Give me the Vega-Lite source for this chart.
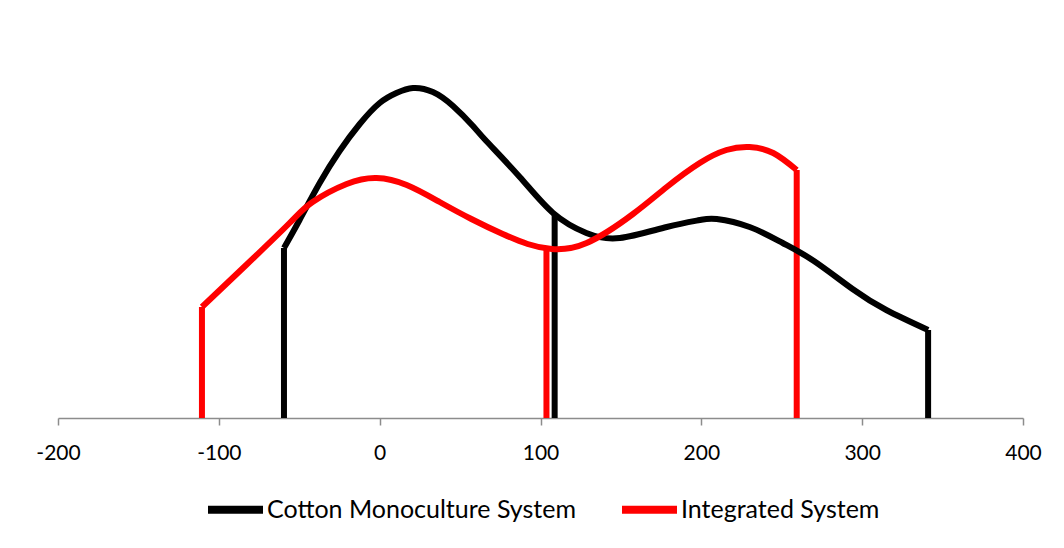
{
  "$schema": "https://vega.github.io/schema/vega-lite/v6.json",
  "width": 965,
  "height": 400,
  "autosize": {"type": "none"},
  "padding": {"left": 58, "top": 18, "right": 41, "bottom": 130},
  "background": "white",
  "config": {
    "view": {"stroke": null}
  },
  "encoding": {
    "x": {"field": "x", "type": "quantitative",
      "scale": {"domain": [-200, 400], "nice": false, "zero": false},
      "axis": {"title": null, "values": [-200, -100, 0, 100, 200, 300, 400], "grid": false,
        "labelExpr": "datum.value < 0 ? '-' + abs(datum.value) : '' + datum.value",
        "domainColor": "#8c8c8c", "domainWidth": 1.5, "tickColor": "#8c8c8c", "tickWidth": 1.5, "tickSize": 7,
        "labelFont": "Lato", "labelFontSize": 21, "labelColor": "#000", "labelPadding": 17, "labelFlush": false}},
    "y": {"field": "y", "type": "quantitative", "scale": {"domain": [0, 400]}, "axis": null},
    "color": {"field": "s", "type": "nominal",
      "scale": {"domain": ["Cotton Monoculture System", "Integrated System"], "range": ["#000000", "#ff0000"]},
      "legend": {"title": null, "orient": "none", "direction": "horizontal", "legendX": 146, "legendY": 460,
        "symbolType": "stroke", "symbolSize": 3025, "symbolStrokeWidth": 8, "labelLimit": 0,
        "labelFontSize": 25, "labelFont": "Lato", "labelColor": "#000", "labelOffset": 0, "columnPadding": 30}}
  },
  "layer": [
    {
      "data": {"values": [
        {"s": "Cotton Monoculture System", "x": -59.5, "y": 0, "y2": 170},
        {"s": "Cotton Monoculture System", "x": 108.8, "y": 0, "y2": 204},
        {"s": "Cotton Monoculture System", "x": 341, "y": 0, "y2": 88},
        {"s": "Integrated System", "x": -110.5, "y": 0, "y2": 111},
        {"s": "Integrated System", "x": 103.7, "y": 0, "y2": 169},
        {"s": "Integrated System", "x": 259.3, "y": 0, "y2": 248}
      ]},
      "mark": {"type": "rule", "strokeWidth": 6, "strokeCap": "butt"},
      "encoding": {
        "y2": {"field": "y2"}
      }
    },
    {
      "data": {"values": [
        {"s": "Cotton Monoculture System", "x": -59.5, "y": 170},
        {"s": "Cotton Monoculture System", "x": -49.8, "y": 198},
        {"s": "Cotton Monoculture System", "x": -37.3, "y": 235},
        {"s": "Cotton Monoculture System", "x": -24.9, "y": 267},
        {"s": "Cotton Monoculture System", "x": -12.4, "y": 294},
        {"s": "Cotton Monoculture System", "x": 0, "y": 315},
        {"s": "Cotton Monoculture System", "x": 10.4, "y": 325},
        {"s": "Cotton Monoculture System", "x": 20.7, "y": 330},
        {"s": "Cotton Monoculture System", "x": 33.1, "y": 326},
        {"s": "Cotton Monoculture System", "x": 45.6, "y": 312},
        {"s": "Cotton Monoculture System", "x": 58, "y": 292},
        {"s": "Cotton Monoculture System", "x": 66.3, "y": 277},
        {"s": "Cotton Monoculture System", "x": 87.1, "y": 241},
        {"s": "Cotton Monoculture System", "x": 107.8, "y": 205},
        {"s": "Cotton Monoculture System", "x": 128.5, "y": 185},
        {"s": "Cotton Monoculture System", "x": 149.3, "y": 180},
        {"s": "Cotton Monoculture System", "x": 178.5, "y": 191},
        {"s": "Cotton Monoculture System", "x": 199, "y": 198},
        {"s": "Cotton Monoculture System", "x": 209.6, "y": 199},
        {"s": "Cotton Monoculture System", "x": 230, "y": 191},
        {"s": "Cotton Monoculture System", "x": 250.6, "y": 175},
        {"s": "Cotton Monoculture System", "x": 270, "y": 157},
        {"s": "Cotton Monoculture System", "x": 294, "y": 129},
        {"s": "Cotton Monoculture System", "x": 315, "y": 108},
        {"s": "Cotton Monoculture System", "x": 341, "y": 88},
        {"s": "Integrated System", "x": -110.5, "y": 111},
        {"s": "Integrated System", "x": -83, "y": 153},
        {"s": "Integrated System", "x": -56, "y": 195},
        {"s": "Integrated System", "x": -41.7, "y": 216},
        {"s": "Integrated System", "x": -20.5, "y": 234},
        {"s": "Integrated System", "x": -1.9, "y": 240},
        {"s": "Integrated System", "x": 16.8, "y": 233},
        {"s": "Integrated System", "x": 37.3, "y": 216},
        {"s": "Integrated System", "x": 57, "y": 199},
        {"s": "Integrated System", "x": 76.5, "y": 184},
        {"s": "Integrated System", "x": 92, "y": 174},
        {"s": "Integrated System", "x": 107, "y": 169},
        {"s": "Integrated System", "x": 128.7, "y": 175},
        {"s": "Integrated System", "x": 157.5, "y": 204},
        {"s": "Integrated System", "x": 178.5, "y": 231},
        {"s": "Integrated System", "x": 199, "y": 255},
        {"s": "Integrated System", "x": 215.6, "y": 268},
        {"s": "Integrated System", "x": 230, "y": 271},
        {"s": "Integrated System", "x": 244.7, "y": 265},
        {"s": "Integrated System", "x": 259.3, "y": 248}
      ]},
      "mark": {"type": "line", "strokeWidth": 6, "interpolate": "natural", "strokeJoin": "round"}
    }
  ]
}
